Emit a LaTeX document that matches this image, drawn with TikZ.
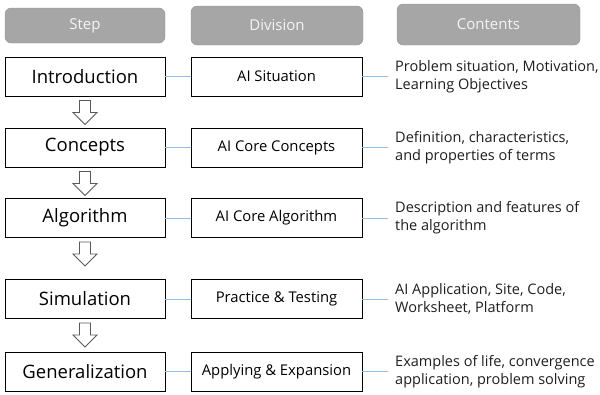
\documentclass[tikz,border=0pt]{standalone}
\usepackage{fontspec}
\setmainfont{Open Sans}
\usetikzlibrary{positioning,calc}
\definecolor{headgray}{RGB}{166,166,166}
\definecolor{headline}{RGB}{150,150,150}
\definecolor{headtext}{RGB}{245,245,245}
\definecolor{linkblue}{RGB}{150,190,228}
\definecolor{textgray}{RGB}{30,30,30}
\begin{document}
\begin{tikzpicture}[x=1pt,y=-1pt,
  headbox/.style={draw=headline,fill=headgray,rounded corners=6pt,text=headtext,font=\fontsize{15}{17}\selectfont},
  stepbox/.style={draw,line width=0.9pt,minimum width=160pt,minimum height=39pt,font=\fontsize{18.5}{21}\selectfont},
  divbox/.style={draw,line width=0.9pt,minimum width=171pt,minimum height=39pt,font=\fontsize{14.8}{18}\selectfont},
  infotext/.style={anchor=west,align=left,inner xsep=7pt,text=textgray,font=\fontsize{14.5}{18}\selectfont},
  link/.style={draw=linkblue,line width=0.9pt},
  hollowarrow/.style={draw=black!65,line width=0.8pt,fill=white,line join=miter}]
\useasboundingbox (0,0) rectangle (600,394);

% header row
\node[headbox,minimum width=160pt,minimum height=35pt] (hstep) at (85,25.5) {Step};
\node[headbox,minimum width=172pt,minimum height=39pt] (hdiv) at (277,25.5) {Division};
\node[headbox,minimum width=183pt,minimum height=41pt] (hcont) at (488.5,24.5) {Contents};

% rows
\foreach \n/\y/\s/\d/\c in {
  1/76.5/Introduction/AI Situation/{Problem situation, Motivation,\\Learning Objectives},
  2/147.5/Concepts/AI Core Concepts/{Definition, characteristics,\\and properties of terms},
  3/218/Algorithm/AI Core Algorithm/{Description and features of\\the algorithm},
  4/299/Simulation/Practice \& Testing/{AI Application, Site, Code,\\Worksheet, Platform},
  5/371.5/Generalization/Applying \& Expansion/{Examples of life, convergence\\application, problem solving}} {
  \node[stepbox] (s\n) at (85,\y) {\s};
  \node[divbox] (d\n) at (276.5,\y) {\d};
  \node[infotext] (c\n) at (388,\y) {\c};
  \draw[link] (s\n) -- (d\n);
  \draw[link] (d\n) -- (c\n);
}

% arrows between steps
\foreach \a in {1,2,3,4} {
  \draw[hollowarrow] ($(s\a.south)+(-5.5,4)$) -- ++(11,0) -- ++(0,12) -- ++(6.5,0)
    -- ++(-12,12) -- ++(-12,-12) -- ++(6.5,0) -- cycle;
}
\end{tikzpicture}
\end{document}
